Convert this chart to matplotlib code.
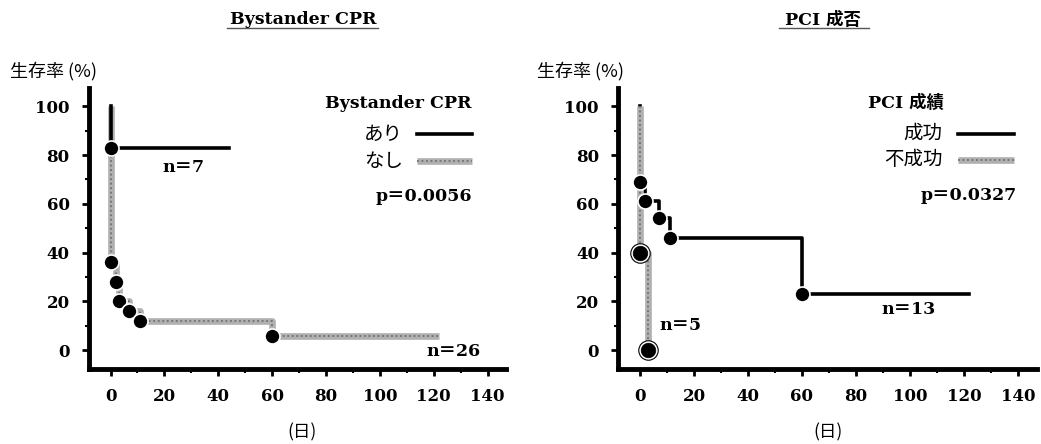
import matplotlib.pyplot as plt
import numpy as np

#Data (time in days, survival in %)
#Left panel, Bystander CPR
cprYesT = [0, 0, 44]
cprYesS = [100, 83, 83]
cprYesMarkT = [0]
cprYesMarkS = [83]

cprNoT = [0, 0, 2, 3, 7, 11, 60, 122]
cprNoS = [100, 36, 28, 20, 16, 12, 6, 6]
cprNoMarkT = [0, 2, 3, 7, 11, 60]
cprNoMarkS = [36, 28, 20, 16, 12, 6]

#Right panel, PCI
pciOkT = [0, 0, 2, 7, 11, 60, 122]
pciOkS = [100, 69, 61, 54, 46, 23, 23]
pciOkMarkT = [0, 2, 7, 11, 60]
pciOkMarkS = [69, 61, 54, 46, 23]

pciNgT = [0, 0, 3]
pciNgS = [100, 40, 0]
pciNgMarkT = [0, 3]
pciNgMarkS = [40, 0]

xTicks = [0, 20, 40, 60, 80, 100, 120, 140]
yTicks = [0, 20, 40, 60, 80, 100]

serif = ['DejaVu Serif', 'Noto Sans CJK JP']
jp = ['Noto Sans CJK JP', 'DejaVu Sans']

fig = plt.figure(figsize=(10.41, 4.44), dpi=100)
axL = fig.add_axes([0.0855, 0.17, 0.401, 0.632])
axR = fig.add_axes([0.594, 0.17, 0.402, 0.632])

def grayLine(ax, x, y, **kw):
    #hatched gray line: light base plus dotted darker overlay
    ax.plot(x, y, color='#b0b0b0', lw=4.8, solid_capstyle='butt', **kw)
    ax.plot(x, y, color='#707070', lw=1.3, dashes=(1, 1.5), **kw)

def setupAxes(ax):
    ax.set_xlim(-8, 147)
    ax.set_ylim(-7.5, 107.5)
    for s in ['top', 'right']:
        ax.spines[s].set_visible(False)
    for s in ['left', 'bottom']:
        ax.spines[s].set_linewidth(3.5)
    ax.set_xticks(xTicks)
    ax.set_yticks(yTicks)
    ax.set_xticks(np.arange(10, 141, 20), minor=True)
    ax.set_yticks(np.arange(10, 101, 20), minor=True)
    ax.tick_params(which='major', length=5, width=2, pad=9)
    ax.tick_params(which='minor', length=3, width=1.5)
    for lab in ax.get_xticklabels() + ax.get_yticklabels():
        lab.set_family(serif)
        lab.set_fontweight('bold')
        lab.set_fontsize(12)

#Left panel
setupAxes(axL)
grayLine(axL, cprNoT, cprNoS, drawstyle='steps-post', zorder=2)
axL.plot(cprYesT, cprYesS, color='black', lw=2.6, drawstyle='steps-post', zorder=3)
axL.plot(cprNoMarkT, cprNoMarkS, 'o', ms=10.8, mfc='black', mec='white', mew=1.2, zorder=5)
axL.plot(cprYesMarkT, cprYesMarkS, 'o', ms=10.8, mfc='black', mec='white', mew=1.2, zorder=5)

axL.text(106.7, 101, 'Bystander CPR', family=serif, weight='bold', fontsize=12.5, ha='center', va='center')
axL.text(108.5, 88.5, 'あり', family=jp, fontsize=14, ha='right', va='center')
axL.plot([113.7, 134.1], [88.5, 88.5], color='black', lw=2.6, clip_on=False)
axL.text(108.5, 77.5, 'なし', family=jp, fontsize=14, ha='right', va='center')
grayLine(axL, [113.7, 134.1], [77.5, 77.5], clip_on=False)
axL.text(134.4, 63.1, 'p＝0.0056', family=serif, weight='bold', fontsize=12.5, ha='right', va='center')
axL.text(27, 75, 'n＝7', family=serif, weight='bold', fontsize=12.5, ha='center', va='center')
axL.text(127.2, -0.4, 'n＝26', family=serif, weight='bold', fontsize=12.5, ha='center', va='center')

#Right panel
setupAxes(axR)
axR.plot(pciOkT, pciOkS, color='black', lw=2.6, drawstyle='steps-post', zorder=2)
grayLine(axR, pciNgT, pciNgS, drawstyle='steps-post', zorder=3)
axR.plot(pciOkMarkT, pciOkMarkS, 'o', ms=10.8, mfc='black', mec='white', mew=1.2, zorder=5)
axR.plot(pciNgMarkT, pciNgMarkS, 'o', ms=14, mfc='white', mec='black', mew=0.8, zorder=5)
axR.plot(pciNgMarkT, pciNgMarkS, 'o', ms=10.5, mfc='black', mec='black', mew=0.5, zorder=6)

axR.text(98.7, 101.2, 'PCI 成績', family=serif, weight='bold', fontsize=12.5, ha='center', va='center')
axR.text(112, 88.8, '成功', family=jp, fontsize=14, ha='right', va='center')
axR.plot([117.9, 138.4], [88.8, 88.8], color='black', lw=2.6, clip_on=False)
axR.text(112, 78.1, '不成功', family=jp, fontsize=14, ha='right', va='center')
grayLine(axR, [117.9, 138.4], [78.1, 78.1], clip_on=False)
axR.text(139.6, 63.6, 'p＝0.0327', family=serif, weight='bold', fontsize=12.5, ha='right', va='center')
axR.text(15.1, 10.3, 'n＝5', family=serif, weight='bold', fontsize=12.5, ha='center', va='center')
axR.text(99.4, 16.5, 'n＝13', family=serif, weight='bold', fontsize=12.5, ha='center', va='center')

#Titles with underline, axis labels
fig.text(0.291, 0.955, 'Bystander CPR', family=serif, weight='bold', fontsize=12.5, ha='center', va='center')
fig.add_artist(plt.Line2D([0.218, 0.363], [0.937, 0.937], color='#555555', lw=1))
fig.text(0.791, 0.955, 'PCI 成否', family=serif, weight='bold', fontsize=12.5, ha='center', va='center')
fig.add_artist(plt.Line2D([0.748, 0.835], [0.937, 0.937], color='#555555', lw=1))

fig.text(0.0096, 0.84, '生存率 (%)', family=jp, fontsize=13, ha='left', va='center')
fig.text(0.516, 0.84, '生存率 (%)', family=jp, fontsize=13, ha='left', va='center')
fig.text(0.29, 0.027, '(日)', family=jp, fontsize=12.5, ha='center', va='center')
fig.text(0.795, 0.027, '(日)', family=jp, fontsize=12.5, ha='center', va='center')

fig.savefig('out.png', dpi=100)
